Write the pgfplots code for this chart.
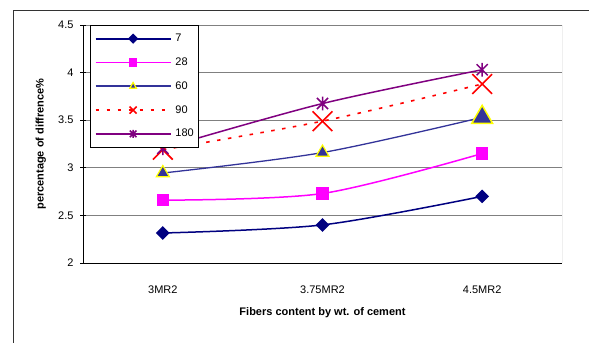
\documentclass[border=0pt]{standalone}
\usepackage{fontspec}
\setmainfont{Liberation Sans}
\usepackage{pgfplots}
\pgfplotsset{compat=1.18}
\usetikzlibrary{plotmarks}
\definecolor{cA}{HTML}{000080}
\definecolor{cB}{HTML}{FF00FF}
\definecolor{cC}{HTML}{333399}
\definecolor{cY}{HTML}{FFFF00}
\definecolor{cD}{HTML}{FF0000}
\definecolor{cE}{HTML}{800080}
\pgfdeclareplotmark{xstar}{%
 \pgfpathmoveto{\pgfqpoint{-.82\pgfplotmarksize}{-.82\pgfplotmarksize}}%
 \pgfpathlineto{\pgfqpoint{.82\pgfplotmarksize}{.82\pgfplotmarksize}}%
 \pgfpathmoveto{\pgfqpoint{-.82\pgfplotmarksize}{.82\pgfplotmarksize}}%
 \pgfpathlineto{\pgfqpoint{.82\pgfplotmarksize}{-.82\pgfplotmarksize}}%
 \pgfpathmoveto{\pgfqpoint{0pt}{-\pgfplotmarksize}}%
 \pgfpathlineto{\pgfqpoint{0pt}{\pgfplotmarksize}}%
 \pgfusepathqstroke}
\def\lmsize{3bp}
\tikzset{lms/.code={\def\lmsize{#1}}}
\begin{document}
\begin{tikzpicture}
\useasboundingbox (0,0) rectangle (589bp,343bp);
\begin{scope}
\clip (0,0) rectangle (589bp,343bp);
\draw[line width=1.2bp, black!80] (13.7bp,-5bp) -- (13.7bp,332.7bp) -- (600bp,332.7bp);
\end{scope}
\begin{axis}[
  at={(83bp,80bp)}, anchor=south west,
  scale only axis, width=479bp, height=238bp,
  xmin=-0.5, xmax=2.5, ymin=2, ymax=4.5,
  axis x line*=bottom, axis y line*=left,
  axis line style={black, line width=1bp},
  xtick={0,1,2}, xticklabels={3MR2,3.75MR2,4.5MR2},
  x tick style={draw=none},
  extra x ticks={-0.5,0.5,1.5,2.5}, extra x tick labels={},
  extra x tick style={tick align=outside, major tick length=4.5bp, major tick style={black, line width=1bp, draw=black}},
  ytick={2,2.5,3,3.5,4,4.5},
  y tick style={black, line width=0.8bp},
  tick align=center, major tick length=5bp,
  ymajorgrids, major grid style={gray, line width=0.8bp},
  /pgf/number format/assume math mode=true,
  ticklabel style={font=\fontsize{11bp}{13bp}\selectfont},
  yticklabel style={xshift=-3.5bp},
  xticklabel style={anchor=base, yshift=-28bp},
  xlabel={Fibers content by wt. of cement},
  ylabel={percentage of diffrence\%},
  xlabel style={font=\bfseries\fontsize{11bp}{13bp}\selectfont, at={(axis description cs:0.5,-0.2214)}, anchor=base},
  ylabel style={font=\bfseries\fontsize{11bp}{13bp}\selectfont, at={(axis description cs:-0.0880,0.5)}, anchor=center},
  legend image code/.code={\draw[mark repeat=2,mark phase=2,#1,mark size=\lmsize,line width=1.8bp] plot coordinates {(0bp,0bp) (37.5bp,0bp) (75bp,0bp)};},
  legend style={at={(0.0146,0.998)}, anchor=north west, draw=black, fill=white,
    inner xsep=4.5bp, inner ysep=8bp, column sep=4bp, row sep=13.8bp,
    font=\fontsize{11bp}{13bp}\selectfont,
    nodes={inner sep=0pt, text height=8bp, text depth=2bp},
    /tikz/every odd column/.append style={text width=18.5bp, align=left}},
  legend cell align=left,
  smooth, tension=0.5,
]
\addplot[cA, line width=1.5bp, mark=square*, mark options={rotate=45, fill=cA, solid}, mark size=4.1bp, lms=2.7bp]
  coordinates {(0,2.315) (1,2.40) (2,2.70)};
\addlegendentry{7}
\addplot[cB, line width=1.5bp, mark=square*, mark options={fill=cB, solid}, mark size=5.5bp, lms=3.5bp]
  coordinates {(0,2.66) (1,2.73) (2,3.15)};
\addlegendentry{28}
\addplot[cC, line width=1.3bp, mark=triangle*, mark options={fill=cC, draw=cY, line width=1.2bp, solid}, mark size=7.5bp, lms=3.8bp]
  coordinates {(0,2.945) (1,3.16) (2,3.53)};
\addlegendentry{60}
\addplot[cD, line width=1.6bp, dash pattern=on 3.5bp off 7.5bp, mark=x, mark options={solid, line width=1.6bp}, mark size=14bp, lms=5bp]
  coordinates {(0,3.19) (1,3.49) (2,3.88)};
\addlegendentry{90}
\addplot[cE, line width=1.5bp, mark=xstar, mark options={solid, line width=1.5bp}, mark size=6.8bp, lms=4bp]
  coordinates {(0,3.205) (1,3.675) (2,4.03)};
\addlegendentry{180}
\addplot[forget plot, only marks, mark=triangle*, mark options={fill=cC, draw=cY, line width=1.5bp}, mark size=12bp]
  coordinates {(2,3.53)};
\draw[gray, line width=0.8bp] (rel axis cs:1,0) -- (rel axis cs:1,1);
\end{axis}
\end{tikzpicture}
\end{document}
